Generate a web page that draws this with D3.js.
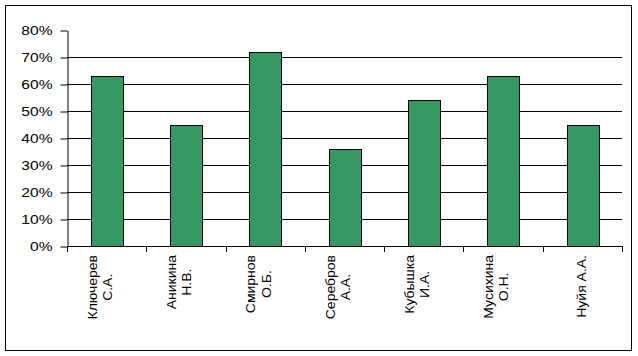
<!DOCTYPE html>
<html><head><meta charset="utf-8">
<script src="https://cdn.jsdelivr.net/npm/d3@7"></script>
<style>body{margin:0;background:#fff}svg{display:block}</style>
</head><body>
<svg id="c" width="638" height="356"></svg>
<script>
const categories = ["Ключерев\nС.А.", "Аникина\nН.В.", "Смирнов\nО.Б.", "Серебров\nА.А.", "Кубышка\nИ.А.", "Мусихина\nО.Н.", "Нуйя А.А."];
const values = [0.63, 0.45, 0.72, 0.36, 0.54, 0.63, 0.45];
const yTicks = [0, 0.1, 0.2, 0.3, 0.4, 0.5, 0.6, 0.7, 0.8];
const gridTicks = [0.1, 0.2, 0.3, 0.4, 0.5, 0.6, 0.7];

const svg = d3.select("#c");
const X0 = 67, X1 = 622, Y0 = 246, Y1 = 30;

svg.append("rect").attr("x", 5.5).attr("y", 5.5).attr("width", 626).attr("height", 345)
  .attr("fill", "#fff").attr("stroke", "#000").attr("stroke-width", 1);

const x = d3.scaleBand().domain(categories).range([X0, X1]).paddingInner(0.6).paddingOuter(0.3);
const y = d3.scaleLinear().domain([0, 0.8]).range([Y0, Y1]);

// gridlines
svg.append("g").selectAll("line").data(gridTicks).join("line")
  .attr("x1", X0).attr("x2", X1)
  .attr("y1", d => Math.round(y(d)) + 0.5).attr("y2", d => Math.round(y(d)) + 0.5)
  .attr("stroke", "#000").attr("stroke-width", 1);

// bars
svg.append("g").selectAll("rect").data(values).join("rect")
  .attr("x", (d, i) => Math.round(x(categories[i])) + 0.5)
  .attr("y", d => Math.round(y(d)) + 0.5)
  .attr("width", Math.round(x.bandwidth()))
  .attr("height", d => Math.round(y(0)) - Math.round(y(d)))
  .attr("fill", "#369965").attr("stroke", "#000").attr("stroke-width", 1);

// y axis
const yAxis = svg.append("g").attr("transform", `translate(${X0 + 0.5},0.5)`)
  .call(d3.axisLeft(y).tickValues(yTicks).tickSize(7).tickSizeOuter(0).tickFormat(d3.format(".0%")));
yAxis.selectAll("path,line").attr("stroke", "#000");
yAxis.selectAll("text").attr("x", 0).attr("fill", "#000")
  .attr("transform", "translate(-15,0) scale(1.3,1)")
  .style("font-family", "Arial, 'Liberation Sans', sans-serif").style("font-size", "12px");

// x axis
const bounds = d3.range(categories.length + 1).map(i => X0 + i * (X1 - X0) / categories.length);
const xa = svg.append("g");
xa.append("line").attr("x1", X0).attr("x2", X1 + 0.5).attr("y1", Y0 + 0.5).attr("y2", Y0 + 0.5).attr("stroke", "#000");
xa.selectAll("line.t").data(bounds).join("line").attr("class", "t")
  .attr("x1", d => Math.round(d) + 0.5).attr("x2", d => Math.round(d) + 0.5)
  .attr("y1", Y0).attr("y2", Y0 + 6).attr("stroke", "#000");

// x labels
categories.forEach((c, i) => {
  const cx = x(c) + x.bandwidth() / 2;
  const lines = c.split("\n");
  const g = svg.append("g").attr("transform", `translate(${cx},255) rotate(-90) scale(1,0.9)`);
  const texts = lines.map((t, j) => g.append("text").text(t)
    .attr("y", lines.length === 1 ? 4 : (j === 0 ? -11 : 6))
    .attr("text-anchor", "middle").attr("fill", "#000")
    .style("font-family", "Arial, 'Liberation Sans', sans-serif").style("font-size", "14px"));
  const L = d3.max(texts, t => t.node().getComputedTextLength());
  texts.forEach(t => t.attr("x", -L / 2));
});
</script>
</body></html>
